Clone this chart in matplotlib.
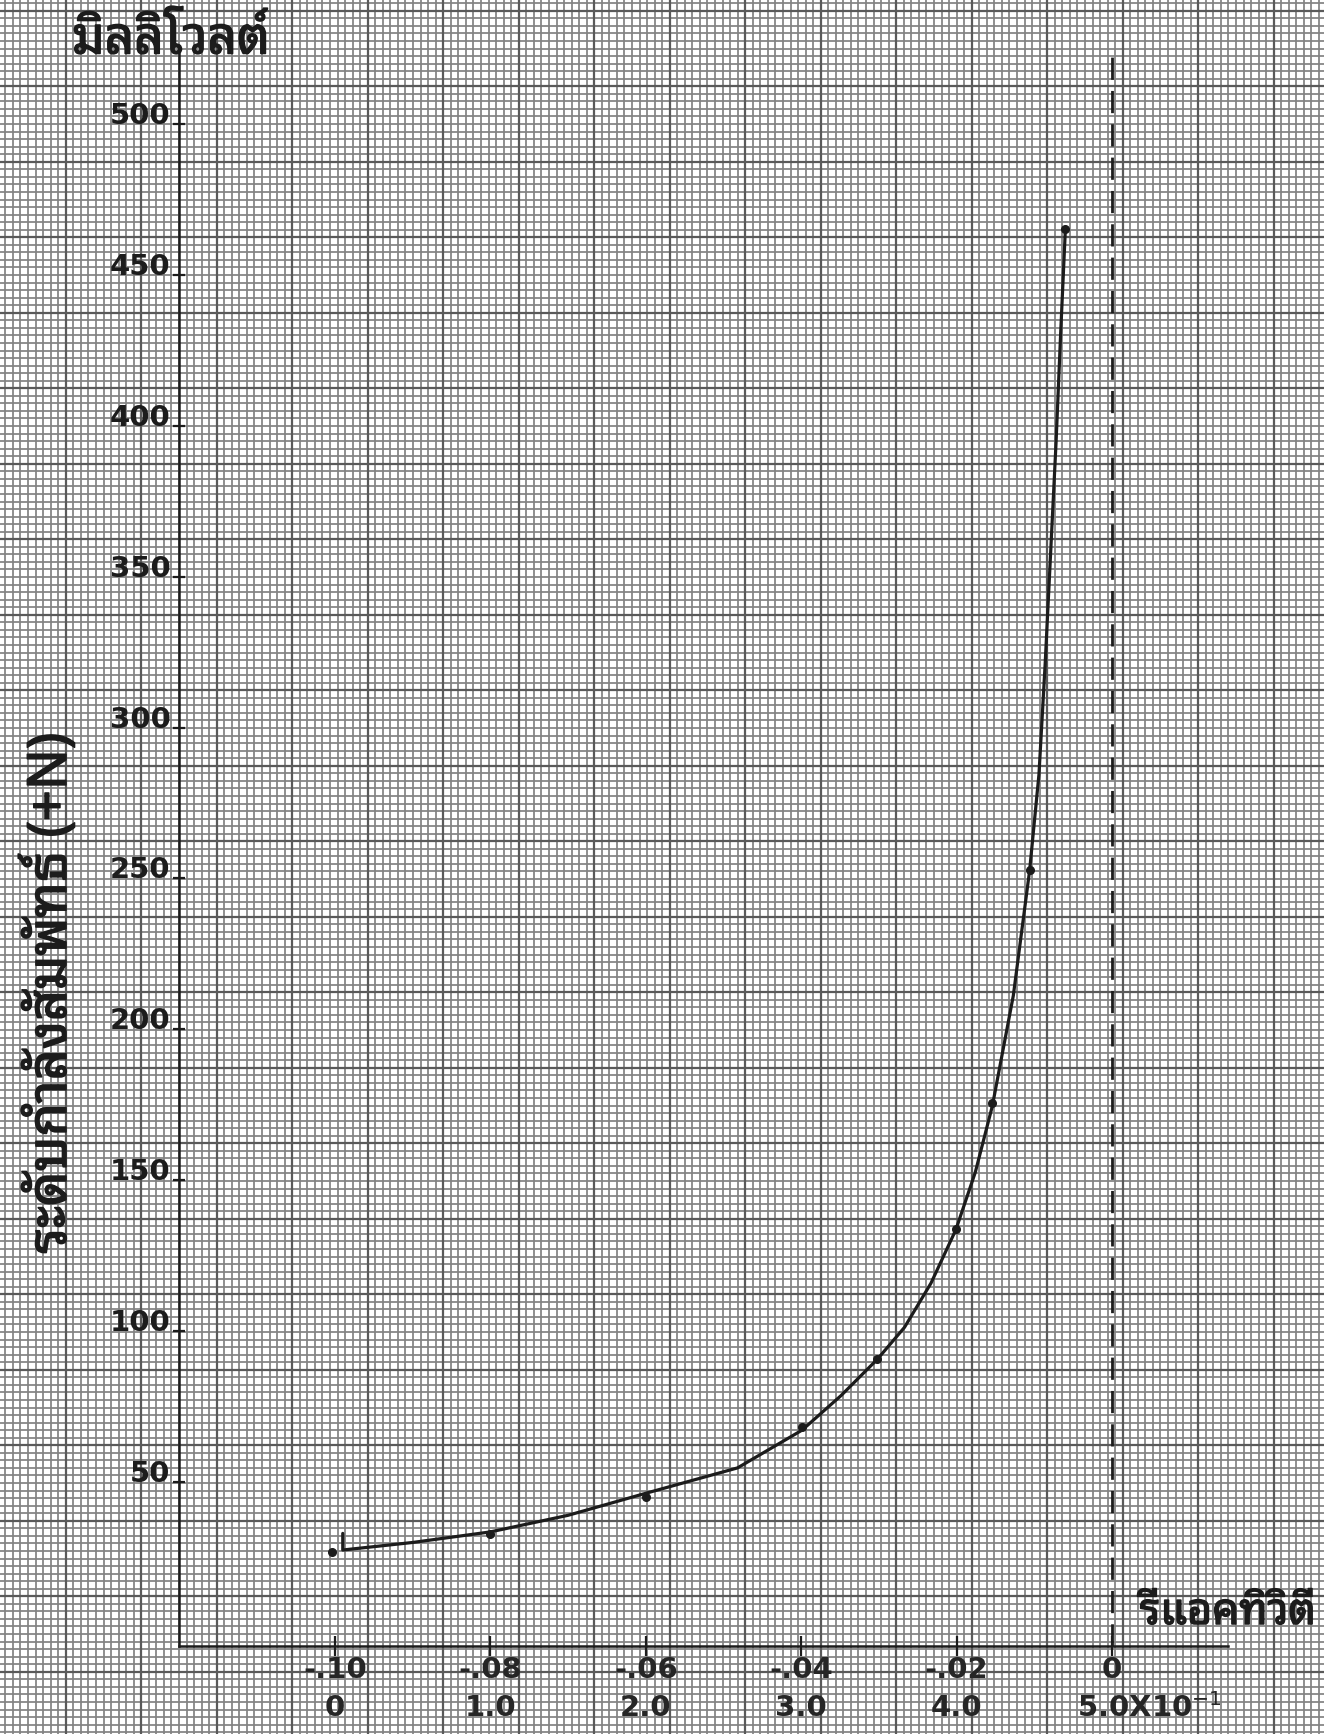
import matplotlib
matplotlib.use("Agg")
import matplotlib.pyplot as plt
from matplotlib import font_manager, ft2font
from matplotlib import patheffects as pe
from matplotlib.collections import LineCollection
import numpy as np

# ---------------- data ----------------
pts_x = [-0.1004, -0.0800, -0.0600, -0.0399, -0.0302, -0.0201, -0.0154, -0.0106, -0.0060]
pts_y = [26.8, 32.8, 45.0, 68.3, 90.8, 133.8, 175.6, 252.8, 465.2]

curve_x = [-0.0990, -0.0990, -0.0900, -0.0800, -0.0700, -0.0600, -0.0482, -0.0399,
           -0.0349, -0.0302, -0.0267, -0.0233, -0.0201, -0.0176, -0.0154, -0.0127,
           -0.0106, -0.0094, -0.0086, -0.0079, -0.0072, -0.0066, -0.0060]
curve_y = [33.0, 27.5, 30.0, 33.5, 39.0, 46.3, 54.7, 67.2,
           78.6, 90.7, 101.3, 115.9, 133.6, 152.6, 174.6, 211.2,
           252.7, 284.5, 321.2, 357.8, 394.5, 431.1, 465.2]

y_ticks = [50, 100, 150, 200, 250, 300, 350, 400, 450, 500]
y_tick_labels = ["50", "100", "150", "200", "250", "300", "350", "400", "450", "500"]
x_ticks = [-0.10, -0.08, -0.06, -0.04, -0.02, 0.0]
x_tick_labels_top = ["-.10", "-.08", "-.06", "-.04", "-.02", "0"]
x_tick_labels_bottom = ["0", "1.0", "2.0", "3.0", "4.0", r"5.0X10$^{-1}$"]

y_title = "มิลลิโวลต์"
y_label = "ระดับกำลังสัมพัทธ์ (+N)"
x_title = "รีแอคทิวิตี"

# ---------------- fonts ----------------
thai_fonts = set()
for f in font_manager.fontManager.ttflist:
    try:
        cm = ft2font.FT2Font(f.fname).get_charmap()
        if 0x0E21 in cm and 0x0E35 in cm:
            thai_fonts.add(f.name)
    except Exception:
        pass
thai_choice = None
for cand in ["Noto Sans Thai Looped", "Loma", "Noto Sans Thai"]:
    if cand in thai_fonts:
        thai_choice = cand
        break
if thai_choice is None and thai_fonts:
    thai_choice = sorted(thai_fonts)[0]
thai_family = ([thai_choice] if thai_choice else []) + ["DejaVu Sans"]

W, H, DPI = 1324, 1734, 100
fig = plt.figure(figsize=(W / DPI, H / DPI), dpi=DPI, facecolor="white")

# ---------------- graph-paper background ----------------
bg = fig.add_axes([0, 0, 1, 1], zorder=0)
bg.set_xlim(0, W)
bg.set_ylim(H, 0)
bg.axis("off")
cell = 7.55
xoff = 141.25 % cell
yoff = 124.0 % cell
minor_segs, major_segs = [], []
for xv in np.arange(xoff, W, cell):
    seg = [(xv, 0), (xv, H)]
    (major_segs if (round((xv - 141.25) / cell) % 10 == 0) else minor_segs).append(seg)
for yv in np.arange(yoff, H, cell):
    seg = [(0, yv), (W, yv)]
    (major_segs if (round((yv - 124.0 - 37.75) / cell) % 10 == 0) else minor_segs).append(seg)
bg.add_collection(LineCollection(minor_segs, colors="#828282", linewidths=1.25))
bg.add_collection(LineCollection(major_segs, colors="#5a5a5a", linewidths=1.6))

# ---------------- main axes ----------------
ax = fig.add_axes([0, 0, 1, 1], zorder=2, facecolor="none")
px_per_x = 155.4 / 0.02
px_per_y = 150.9 / 50.0
x0 = -0.10 - (335.0) / px_per_x
x1 = x0 + W / px_per_x
y1 = 500 + 124.0 / px_per_y
y0 = y1 - H / px_per_y
ax.set_xlim(x0, x1)
ax.set_ylim(y0, y1)

axis_x = x0 + 179.0 / px_per_x
axis_y = y1 - 1646.0 / px_per_y
top_y = y1 - 50.0 / px_per_y
right_x = x0 + 1228.0 / px_per_x

ink = "#1c1c1c"
for s in ["top", "right"]:
    ax.spines[s].set_visible(False)
ax.spines["left"].set_position(("data", axis_x))
ax.spines["left"].set_bounds(axis_y, top_y)
ax.spines["bottom"].set_position(("data", axis_y))
ax.spines["bottom"].set_bounds(axis_x, right_x)
for s in ["left", "bottom"]:
    ax.spines[s].set_color(ink)
    ax.spines[s].set_linewidth(1.8)

num_font = dict(family="DejaVu Sans", weight="bold", color="#262626")
num_size = 21

ax.set_yticks(y_ticks)
ax.set_yticklabels(y_tick_labels, fontsize=num_size, **num_font)
for lab in ax.get_yticklabels():
    lab.set_verticalalignment("baseline")
ax.tick_params(axis="y", direction="inout", length=9, width=1.6, pad=1.5, colors=ink)

ax.set_xticks(x_ticks)
ax.set_xticklabels([])
ax.tick_params(axis="x", direction="inout", length=14, width=1.6, colors=ink)
for xv, lt, lb in zip(x_ticks, x_tick_labels_top, x_tick_labels_bottom):
    ax.annotate(lt, xy=(xv, axis_y), xycoords="data", xytext=(0, -17), textcoords="offset points",
                ha="center", va="center", fontsize=num_size, **num_font)
    dx = 27 if lb.startswith("5.0") else 0
    ax.annotate(lb, xy=(xv, axis_y), xycoords="data", xytext=(dx, -45), textcoords="offset points",
                ha="center", va="center", fontsize=num_size, **num_font)

# dashed reference line at zero reactivity
ax.vlines(0.0, axis_y, top_y, colors=ink, linestyles=(0, (8, 4)), linewidth=2.0)

# curve and points
ax.plot(curve_x, curve_y, color=ink, linewidth=2.3, solid_capstyle="round", solid_joinstyle="round")
ax.plot(pts_x, pts_y, "o", color=ink, markersize=5.5)

# titles (slightly thickened strokes to imitate the hand lettering)
thick = [pe.withStroke(linewidth=1.1, foreground=ink)]
fig.text(171 / W, 1 - 40 / H, y_title, family=thai_family, fontsize=37, weight="bold",
         color=ink, ha="center", va="center", path_effects=thick)
fig.text(50 / W, 1 - 993 / H, y_label, family=thai_family, fontsize=39, weight="bold",
         color=ink, ha="center", va="center", rotation=90, path_effects=thick)
fig.text(1228 / W, 1 - 1613 / H, x_title, family=thai_family, fontsize=31, weight="bold",
         color=ink, ha="center", va="center", path_effects=thick)

fig.savefig("out.png", dpi=DPI, facecolor="white")
